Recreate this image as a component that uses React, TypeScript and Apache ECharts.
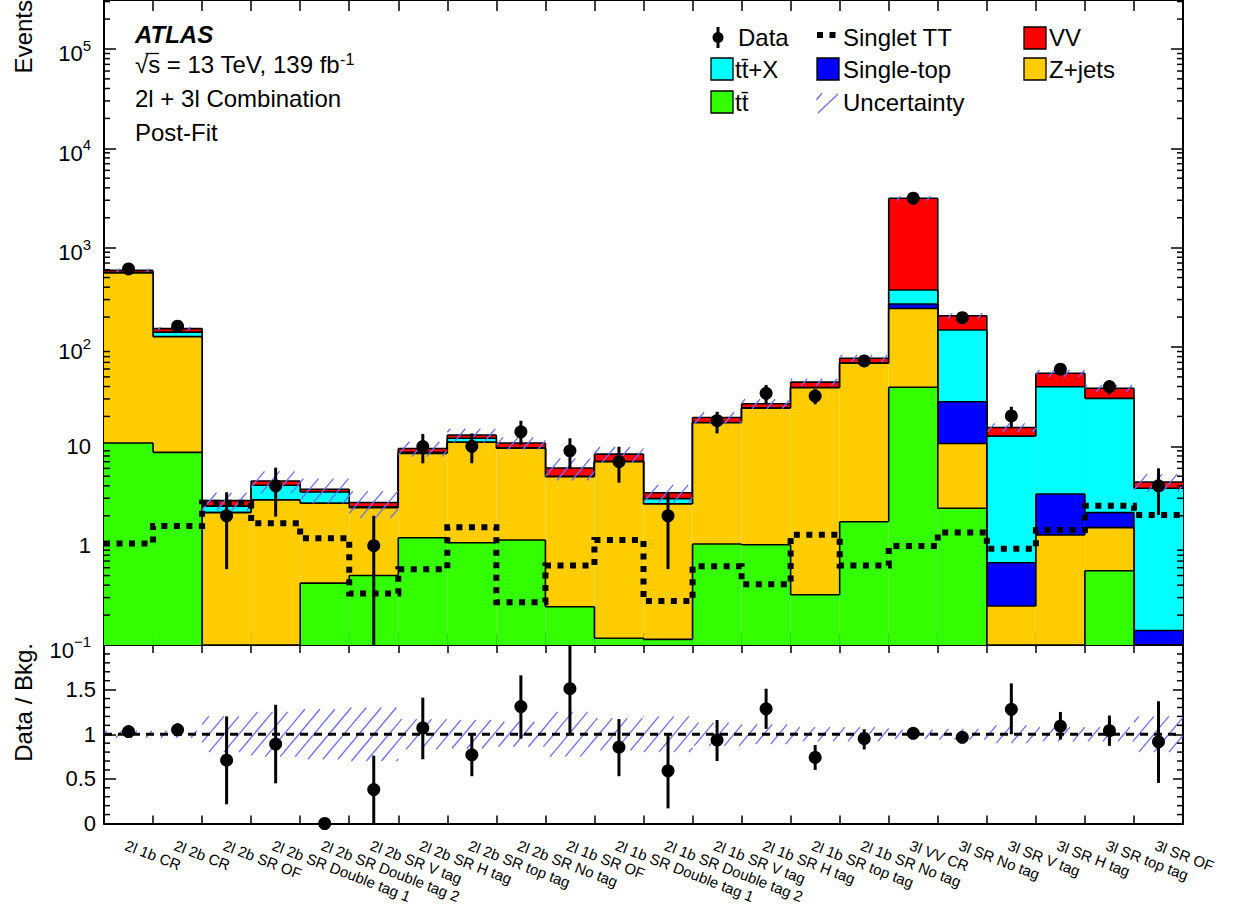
import React, { useEffect, useRef } from "react";
import * as echarts from "echarts";

// ---------------- data ----------------
const categories = [
  "2l 1b CR", "2l 2b CR", "2l 2b SR OF", "2l 2b SR Double tag 1", "2l 2b SR Double tag 2",
  "2l 2b SR V tag", "2l 2b SR H tag", "2l 2b SR top tag", "2l 2b SR No tag", "2l 1b SR OF",
  "2l 1b SR Double tag 1", "2l 1b SR Double tag 2", "2l 1b SR V tag", "2l 1b SR H tag",
  "2l 1b SR top tag", "2l 1b SR No tag", "3l VV CR", "3l SR No tag", "3l SR V tag",
  "3l SR H tag", "3l SR top tag", "3l SR OF",
];

// background processes (stacked bottom -> top)
const ttbar = [10.8, 8.7, 0, 0, 0.42, 0.5, 1.2, 1.07, 1.14, 0.243, 0.117, 0.114, 1.04, 1.02, 0.32, 1.74, 39.3, 2.38, 0, 0, 0.56, 0];
const zjets = [544, 118, 2.15, 2.88, 2.25, 1.91, 7.3, 9.93, 8.41, 4.7, 6.88, 2.52, 16.26, 23.2, 38.6, 66.8, 205, 8.3, 0.247, 1.28, 0.96, 0];
const singleTop = [0.5, 0.5, 0, 0, 0, 0, 0, 0, 0, 0, 0, 0, 0, 0, 0, 0, 26.5, 17.4, 0.427, 2.03, 0.63, 0.14];
const ttX = [5, 14, 0.35, 1.17, 0.8, 0.05, 0.2, 1.05, 0.1, 0.05, 0.05, 0.34, 0.1, 0.1, 0.1, 0.1, 104, 120, 12.0, 36.5, 28.25, 3.64];
const vv = [30, 12, 0.34, 0.43, 0.23, 0.26, 0.8, 0.95, 1.15, 1.05, 1.3, 0.44, 2.1, 2.5, 5.3, 8.4, 2765, 58.5, 2.8, 14.5, 8.0, 0.59];

// relative background uncertainty
const bkgRelUnc = [0.04, 0.04, 0.2, 0.25, 0.28, 0.3, 0.17, 0.16, 0.14, 0.25, 0.18, 0.2, 0.13, 0.11, 0.08, 0.08, 0.05, 0.06, 0.1, 0.08, 0.08, 0.2];

// observed data
const dataObs = [610, 162, 2.0, 4.0, 0, 1.0, 9.95, 10.0, 14.0, 9.0, 7.0, 2.0, 18.1, 34.2, 32.1, 72.3, 3150, 197, 20.2, 59.7, 39.8, 4.0];
const dataHi = [635, 175, 3.45, 6.1, 0, 2.0, 13.3, 13.5, 18.1, 12.05, 9.9, 3.4, 22.3, 41.5, 38, 81, 3210, 212, 25, 68, 46.5, 6.0];
const dataLo = [585, 149, 0.58, 1.96, 0, 0.05, 6.75, 6.75, 10.3, 6.0, 4.3, 0.58, 13.5, 26.7, 26.5, 64, 3090, 183, 15.2, 52, 33.5, 2.04];

// signal
const singletTT = [1.05, 1.58, 2.7, 1.68, 1.19, 0.33, 0.58, 1.53, 0.27, 0.63, 1.14, 0.277, 0.62, 0.41, 1.29, 0.63, 0.99, 1.36, 0.93, 1.44, 2.52, 2.04];

// ratio panel
const ratio = [1.03, 1.05, 0.71, 0.89, 0, 0.38, 1.07, 0.77, 1.31, 1.51, 0.855, 0.59, 0.935, 1.285, 0.74, 0.95, 1.01, 0.965, 1.28, 1.09, 1.04, 0.915];
const ratioHi = [1.05, 1.12, 1.2, 1.33, 0, 0.76, 1.41, 1.01, 1.66, 2.1, 1.17, 1.0, 1.16, 1.51, 0.88, 1.056, 1.03, 1.03, 1.57, 1.25, 1.21, 1.37];
const ratioLo = [1.01, 0.99, 0.215, 0.45, 0, 0, 0.72, 0.53, 0.95, 1.01, 0.53, 0.17, 0.70, 1.06, 0.60, 0.83, 0.99, 0.90, 1.0, 0.94, 0.87, 0.455];

// axis decorations
const logDecades = [-1, 0, 1, 2, 3, 4, 5];
const logMinorMultipliers = [2, 3, 4, 5, 6, 7, 8, 9];
const ratioMinorTicks = [0.1, 0.2, 0.3, 0.4, 0.6, 0.7, 0.8, 0.9, 1.1, 1.2, 1.3, 1.4, 1.6, 1.7, 1.8, 1.9];

// ---------------- styling ----------------
const FONT = "'Liberation Sans', Arial, Helvetica, sans-serif";
const Y_MIN = 0.1;
const Y_MAX = Math.pow(10, 5.493);
const NB = categories.length;
const HATCH_COLOR = "#6c6cff";
const HATCH_DX = 15;
const HATCH_T = Math.tan((50 * Math.PI) / 180);
const COLORS = { tt: "#33ff00", z: "#ffcc00", st: "#0000ff", ttx: "#00ffff", vv: "#ff0000" };

const clampY = (v: number) => Math.max(v, Y_MIN);

const layers = [
  { name: "tt̄", values: ttbar, color: COLORS.tt },
  { name: "Z+jets", values: zjets, color: COLORS.z },
  { name: "Single-top", values: singleTop, color: COLORS.st },
  { name: "tt̄+X", values: ttX, color: COLORS.ttx },
  { name: "VV", values: vv, color: COLORS.vv },
];

let base = categories.map(() => 0);
const layerData = layers.map((l) => {
  const bottom = base.slice();
  const top = bottom.map((b, i) => b + l.values[i]);
  base = top;
  return { ...l, bottom, top };
});
const totalBkg = base;

function hatchLines(x0: number, y0: number, x1: number, y1: number) {
  const d = HATCH_DX * HATCH_T;
  const uMin = x0 * HATCH_T + y0;
  const uMax = x1 * HATCH_T + y1;
  const out: any[] = [];
  for (let k = Math.ceil(uMin / d); k * d <= uMax; k++) {
    const u = k * d;
    const xa = Math.max(x0, (u - y1) / HATCH_T);
    const xb = Math.min(x1, (u - y0) / HATCH_T);
    if (xb > xa + 0.3) {
      out.push({
        type: "line",
        shape: { x1: xa, y1: u - xa * HATCH_T, x2: xb, y2: u - xb * HATCH_T },
        style: { stroke: HATCH_COLOR, lineWidth: 1.3 },
      });
    }
  }
  return out;
}

const stackSeries = [...layerData].reverse().map((l) => ({
  type: "custom",
  name: l.name,
  xAxisIndex: 0,
  yAxisIndex: 0,
  silent: true,
  z: 2,
  encode: { x: 0, y: 2 },
  data: l.top.map((t, i) => [i, clampY(l.bottom[i]), clampY(t), clampY(i > 0 ? l.top[i - 1] : t)]),
  renderItem: (params: any, api: any) => {
    const i = api.value(0);
    const lo = api.value(1);
    const hi = api.value(2);
    const prev = api.value(3);
    const pL = api.coord([i, lo]);
    const pR = api.coord([i + 1, hi]);
    const children: any[] = [];
    if (pL[1] - pR[1] > 0.01) {
      children.push({
        type: "rect",
        shape: { x: pL[0], y: pR[1], width: pR[0] - pL[0], height: pL[1] - pR[1] },
        style: { fill: l.color },
      });
    }
    children.push({
      type: "line",
      shape: { x1: pL[0], y1: pR[1], x2: pR[0], y2: pR[1] },
      style: { stroke: "#000", lineWidth: 1.6 },
    });
    if (i > 0) {
      const pp = api.coord([i, prev]);
      children.push({
        type: "line",
        shape: { x1: pL[0], y1: pp[1], x2: pL[0], y2: pR[1] },
        style: { stroke: "#000", lineWidth: 1.6 },
      });
    }
    return { type: "group", children };
  },
}));

const hatchRender = (yLo: number, yHi: number) => (params: any, api: any) => {
  const i = api.value(0);
  const lo = Math.max(api.value(1), yLo);
  const hi = Math.min(api.value(2), yHi);
  const a = api.coord([i, hi]);
  const b = api.coord([i + 1, lo]);
  return { type: "group", children: hatchLines(a[0], a[1], b[0], b[1]) };
};

const errRender = (yLo: number, yHi: number) => (params: any, api: any) => {
  const x = api.value(0);
  const lo = Math.max(api.value(1), yLo);
  const hi = Math.min(api.value(2), yHi);
  const a = api.coord([x, lo]);
  const b = api.coord([x, hi]);
  return {
    type: "line",
    shape: { x1: a[0], y1: a[1], x2: b[0], y2: b[1] },
    style: { stroke: "#000", lineWidth: 3 },
  };
};

const minorRender = (len: number) => (params: any, api: any) => {
  const v = api.value(1);
  const l = api.coord([0, v]);
  const r = api.coord([NB, v]);
  return {
    type: "group",
    children: [
      { type: "line", shape: { x1: l[0], y1: l[1], x2: l[0] + len, y2: l[1] }, style: { stroke: "#000", lineWidth: 1.5 } },
      { type: "line", shape: { x1: r[0] - len, y1: r[1], x2: r[0], y2: r[1] }, style: { stroke: "#000", lineWidth: 1.5 } },
    ],
  };
};

const logMinorValues: number[] = [];
logDecades.forEach((d) =>
  logMinorMultipliers.forEach((m) => {
    const v = m * Math.pow(10, d);
    if (v < Y_MAX) logMinorValues.push(v);
  })
);

const axisLine = { show: true, onZero: false, lineStyle: { color: "#000", width: 2 } };
const tick = (len: number) => ({ show: true, inside: true, length: len, lineStyle: { color: "#000", width: 1.5 } });

const logLabel = (v: number) => {
  const e = Math.log10(v);
  const r = Math.round(e);
  if (Math.abs(e - r) > 1e-6) return "";
  if (r === 0) return "{b|1}";
  if (r === 1) return "{b|10}";
  return "{p|10}{s|" + (r < 0 ? "\u2212" + -r : String(r)) + "}";
};

const xValueAxis = (grid: number, pos: string, len: number) => ({
  type: "value",
  gridIndex: grid,
  position: pos,
  min: 0,
  max: NB,
  interval: 1,
  axisLine,
  axisTick: tick(len),
  axisLabel: { show: false },
  splitLine: { show: false },
});

const textEl = (x: number, y: number, text: string, size: number, extra: any = {}) => ({
  type: "text",
  x,
  y,
  silent: true,
  style: {
    text,
    fontSize: size,
    fontFamily: FONT,
    fill: "#000",
    textAlign: "left",
    textVerticalAlign: "middle",
    ...extra,
  },
});

const legendBox = (x: number, y: number, color: string) => ({
  type: "rect",
  shape: { x, y, width: 22, height: 22 },
  style: { fill: color, stroke: "#000", lineWidth: 1.3 },
});

const graphics: any[] = [
  // axis titles
  { ...textEl(23, 0, "Events", 24, { textAlign: "right" }), rotation: Math.PI / 2 },
  { ...textEl(23, 643, "Data / Bkg.", 24, { textAlign: "right" }), rotation: Math.PI / 2 },
  // ATLAS label
  textEl(135, 34, "ATLAS", 24, { fontWeight: "bold", fontStyle: "italic" }),
  {
    type: "text",
    x: 135,
    y: 64,
    silent: true,
    style: {
      text: "{a|√s = 13 TeV, 139 fb}{s|-1}",
      textAlign: "left",
      textVerticalAlign: "middle",
      fill: "#000",
      rich: {
        a: { fontSize: 24, fontFamily: FONT, lineHeight: 26, fill: "#000" },
        s: { fontSize: 16, fontFamily: FONT, lineHeight: 16, verticalAlign: "top", fill: "#000" },
      },
    },
  },
  { type: "line", silent: true, shape: { x1: 145.5, y1: 53.5, x2: 159, y2: 53.5 }, style: { stroke: "#000", lineWidth: 1.3 } },
  textEl(135, 98.5, "2l + 3l Combination", 24),
  textEl(135, 132, "Post-Fit", 24),
  // legend column 1
  { type: "line", silent: true, shape: { x1: 718, y1: 27, x2: 718, y2: 48 }, style: { stroke: "#000", lineWidth: 3 } },
  { type: "circle", silent: true, shape: { cx: 718, cy: 37.5, r: 5.5 }, style: { fill: "#000" } },
  textEl(738, 37.5, "Data", 24),
  legendBox(711, 58, COLORS.ttx),
  textEl(735, 69, "tt̄+X", 24),
  legendBox(711, 91, COLORS.tt),
  textEl(735, 102, "tt̄", 24),
  // legend column 2
  { type: "line", silent: true, shape: { x1: 817, y1: 35, x2: 840, y2: 35 }, style: { stroke: "#000", lineWidth: 6, lineDash: [6, 6.5] } },
  textEl(843, 37.5, "Singlet TT", 24),
  legendBox(817, 58, COLORS.st),
  textEl(843, 69, "Single-top", 24),
  { type: "line", silent: true, shape: { x1: 816.5, y1: 100, x2: 822, y2: 93 }, style: { stroke: HATCH_COLOR, lineWidth: 1.3 } },
  { type: "line", silent: true, shape: { x1: 818, y1: 113, x2: 838, y2: 94 }, style: { stroke: HATCH_COLOR, lineWidth: 1.3 } },
  textEl(843, 102, "Uncertainty", 24),
  // legend column 3
  legendBox(1024, 27, COLORS.vv),
  textEl(1049, 37.5, "VV", 24),
  legendBox(1024, 58, COLORS.z),
  textEl(1049, 69, "Z+jets", 24),
];

const option: any = {
  animation: false,
  backgroundColor: "#fff",
  textStyle: { fontFamily: FONT },
  grid: [
    { left: 104, top: 0, width: 1079, height: 645, containLabel: false, outerBoundsMode: "none", show: false },
    { left: 104, top: 645, width: 1079, height: 178.5, containLabel: false, outerBoundsMode: "none", show: false },
  ],
  xAxis: [
    xValueAxis(0, "bottom", 12),
    xValueAxis(0, "top", 11),
    xValueAxis(1, "bottom", 8),
    xValueAxis(1, "top", 8),
    {
      type: "category",
      gridIndex: 1,
      position: "bottom",
      data: categories,
      boundaryGap: true,
      axisLine: { show: false, onZero: false },
      axisTick: { show: false },
      splitLine: { show: false },
      axisLabel: {
        show: true,
        interval: 0,
        rotate: -21,
        margin: 14,
        align: "left",
        verticalAlign: "top",
        fontSize: 15,
        fontFamily: FONT,
        color: "#000",
        hideOverlap: false,
      },
    },
  ],
  yAxis: [
    {
      type: "log",
      logBase: 10,
      gridIndex: 0,
      position: "left",
      min: Y_MIN,
      max: Y_MAX,
      splitNumber: 10,
      axisLine,
      axisTick: tick(12),
      splitLine: { show: false },
      axisLabel: {
        show: true,
        margin: 13,
        color: "#000",
        formatter: logLabel,
        showMaxLabel: false,
        rich: {
          b: { fontSize: 22, fontFamily: FONT, color: "#000" },
          p: { fontSize: 22, fontFamily: FONT, color: "#000", padding: [10, 0, 0, 0] },
          s: { fontSize: 15, fontFamily: FONT, color: "#000", verticalAlign: "top", padding: [5, 0, 0, 0] },
        },
      },
    },
    {
      type: "log",
      logBase: 10,
      gridIndex: 0,
      position: "right",
      min: Y_MIN,
      max: Y_MAX,
      splitNumber: 10,
      axisLine,
      axisTick: tick(12),
      splitLine: { show: false },
      axisLabel: { show: false },
    },
    {
      type: "value",
      gridIndex: 1,
      position: "left",
      min: 0,
      max: 2,
      interval: 0.5,
      axisLine,
      axisTick: tick(12),
      splitLine: { show: false },
      axisLabel: {
        show: true,
        margin: 8,
        fontSize: 22,
        fontFamily: FONT,
        color: "#000",
        formatter: (v: number) => (v >= 2 ? "" : String(v)),
      },
    },
    {
      type: "value",
      gridIndex: 1,
      position: "right",
      min: 0,
      max: 2,
      interval: 0.5,
      axisLine,
      axisTick: tick(10),
      splitLine: { show: false },
      axisLabel: { show: false },
    },
  ],
  series: [
    ...stackSeries,
    {
      type: "custom",
      name: "Uncertainty",
      xAxisIndex: 0,
      yAxisIndex: 0,
      silent: true,
      z: 3,
      encode: { x: 0, y: 2 },
      data: totalBkg.map((t, i) => [i, clampY(t * (1 - bkgRelUnc[i])), clampY(t * (1 + bkgRelUnc[i]))]),
      renderItem: hatchRender(Y_MIN, Y_MAX),
    },
    {
      type: "line",
      name: "Singlet TT",
      xAxisIndex: 0,
      yAxisIndex: 0,
      silent: true,
      z: 4,
      symbol: "none",
      showSymbol: false,
      data: singletTT.flatMap((v, i) => [[i, v], [i + 1, v]]),
      lineStyle: { color: "#000", width: 6, type: [6, 6.5], cap: "butt", join: "miter", opacity: 1 },
    },
    {
      type: "custom",
      name: "Data errors",
      xAxisIndex: 0,
      yAxisIndex: 0,
      silent: true,
      z: 5,
      encode: { x: 0, y: [1, 2] },
      data: dataObs.map((v, i) => (v > 0 ? [i + 0.5, clampY(dataLo[i]), dataHi[i]] : null)).filter((d) => d),
      renderItem: errRender(Y_MIN, Y_MAX),
    },
    {
      type: "scatter",
      name: "Data",
      xAxisIndex: 0,
      yAxisIndex: 0,
      silent: true,
      z: 6,
      symbol: "circle",
      symbolSize: 13,
      itemStyle: { color: "#000", opacity: 1 },
      data: dataObs.map((v, i) => (v > 0 ? [i + 0.5, v] : null)).filter((d) => d),
    },
    {
      type: "custom",
      name: "log minor ticks",
      xAxisIndex: 0,
      yAxisIndex: 0,
      silent: true,
      z: 7,
      encode: { x: 0, y: 1 },
      data: logMinorValues.map((v) => [0, v]),
      renderItem: minorRender(6),
    },
    // ratio panel
    {
      type: "custom",
      name: "Uncertainty ratio",
      xAxisIndex: 2,
      yAxisIndex: 2,
      silent: true,
      z: 3,
      encode: { x: 0, y: 2 },
      data: bkgRelUnc.map((u, i) => [i, 1 - u, 1 + u]),
      renderItem: hatchRender(0, 2),
    },
    {
      type: "line",
      name: "Unity",
      xAxisIndex: 2,
      yAxisIndex: 2,
      silent: true,
      z: 4,
      symbol: "none",
      data: [[0, 1], [NB, 1]],
      lineStyle: { color: "#000", width: 3, type: [8, 6], opacity: 1 },
    },
    {
      type: "custom",
      name: "Ratio errors",
      xAxisIndex: 2,
      yAxisIndex: 2,
      silent: true,
      z: 5,
      clip: false,
      encode: { x: 0, y: [1, 2] },
      data: ratio.map((r, i) => (ratioHi[i] > ratioLo[i] ? [i + 0.5, ratioLo[i], ratioHi[i]] : null)).filter((d) => d),
      renderItem: errRender(0, 2),
    },
    {
      type: "scatter",
      name: "Data / Bkg.",
      xAxisIndex: 2,
      yAxisIndex: 2,
      silent: true,
      clip: false,
      z: 6,
      symbol: "circle",
      symbolSize: 13,
      itemStyle: { color: "#000", opacity: 1 },
      data: ratio.map((r, i) => [i + 0.5, r]),
    },
    {
      type: "custom",
      name: "ratio minor ticks",
      xAxisIndex: 2,
      yAxisIndex: 2,
      silent: true,
      z: 7,
      encode: { x: 0, y: 1 },
      data: ratioMinorTicks.map((v) => [0, v]),
      renderItem: minorRender(6),
    },
  ],
  graphic: { elements: graphics },
};

export default function App() {
  const ref = useRef<HTMLDivElement>(null);
  useEffect(() => {
    document.body.style.margin = "0";
    const chart = echarts.init(ref.current as HTMLDivElement, null, { renderer: "svg" });
    chart.setOption(option);
    return () => chart.dispose();
  }, []);
  return <div ref={ref} style={{ width: 1241, height: 910, background: "#fff" }} />;
}
